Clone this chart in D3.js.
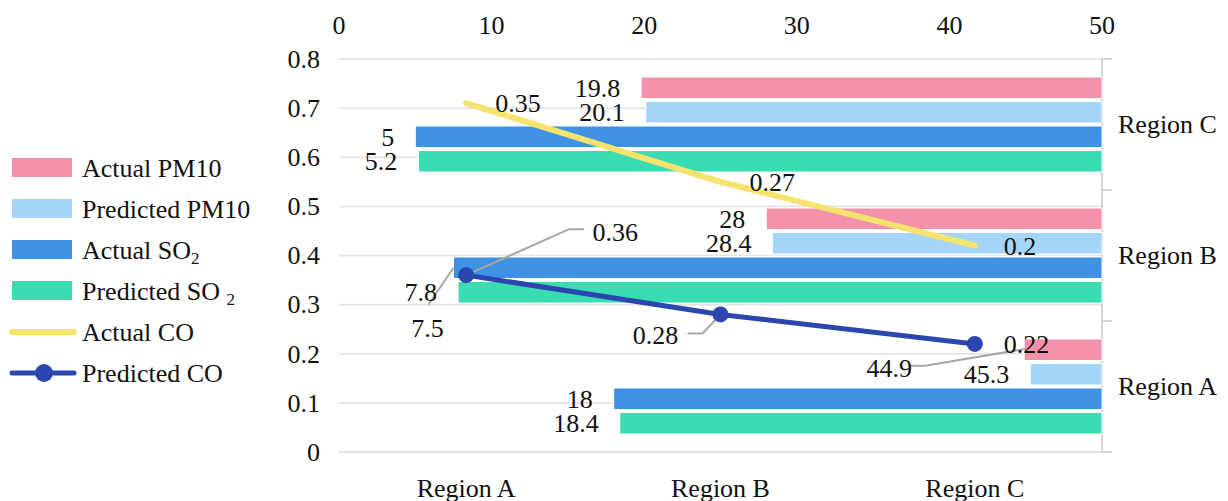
<!DOCTYPE html>
<html>
<head>
<meta charset="utf-8">
<script src="https://cdn.jsdelivr.net/npm/d3@7"></script>
<style>
  html, body { margin: 0; padding: 0; background: #fff; }
  svg text { font-family: "Liberation Serif", "Times New Roman", serif; fill: #111; }
</style>
</head>
<body>
<svg id="chart" width="1228" height="501"></svg>
<script>
// ---------------- data ----------------
const categories = ["Region A", "Region B", "Region C"];
const barCategories = ["Region C", "Region B", "Region A"];
const actualPM10 = [44.9, 28, 19.8];
const predictedPM10 = [45.3, 28.4, 20.1];
const actualSO2 = [18, 7.5, 5];
const predictedSO2 = [18.4, 7.8, 5.2];
const actualCO = [0.35, 0.27, 0.2];
const predictedCO = [0.36, 0.28, 0.22];
const xTicks = [0, 10, 20, 30, 40, 50];
const yTicks = [0, 0.1, 0.2, 0.3, 0.4, 0.5, 0.6, 0.7, 0.8];

const barSeries = [
  { key: "Actual PM10", values: actualPM10, color: "#F291A9" },
  { key: "Predicted PM10", values: predictedPM10, color: "#A4D6FA" },
  { key: "Actual SO2", values: actualSO2, color: "#3E91E3" },
  { key: "Predicted SO2", values: predictedSO2, color: "#39DDB1" }
];
const yellow = "#F5E36E";
const navy = "#2B46AE";

// ---------------- layout ----------------
const svg = d3.select("#chart");
const plot = { left: 339, right: 1102, top: 59, bottom: 452 };

const x = d3.scaleLinear().domain([0, 50]).range([plot.left, plot.right]);
const y = d3.scaleLinear().domain([0, 0.8]).range([plot.bottom, plot.top]);
const xCat = d3.scaleBand().domain(categories).range([plot.left, plot.right]);
const yBand = d3.scaleBand().domain(barCategories).range([plot.top, plot.bottom]);
const yInner = d3.scaleBand().domain(barSeries.map(s => s.key))
  .range([0, yBand.bandwidth()]).paddingInner(0.122).paddingOuter(0.734);

const FS = 26;

// gridlines
svg.append("g").selectAll("line").data(yTicks).join("line")
  .attr("x1", plot.left).attr("x2", plot.right)
  .attr("y1", d => y(d)).attr("y2", d => y(d))
  .attr("stroke", "#e6e6e6").attr("stroke-width", 2);

// left axis labels
svg.append("g").selectAll("text").data(yTicks).join("text")
  .attr("x", 320).attr("y", d => y(d)).attr("dy", "0.34em")
  .attr("text-anchor", "end").attr("font-size", FS)
  .text(d => d3.format("~g")(d));

// top axis labels
svg.append("g").selectAll("text").data(xTicks).join("text")
  .attr("x", d => x(d)).attr("y", 25).attr("dy", "0.34em")
  .attr("text-anchor", "middle").attr("font-size", FS)
  .text(d => d);

// bottom category labels
svg.append("g").selectAll("text").data(categories).join("text")
  .attr("x", d => xCat(d) + xCat.bandwidth() / 2).attr("y", 488).attr("dy", "0.34em")
  .attr("text-anchor", "middle").attr("font-size", FS)
  .text(d => d);

// right axis
const rAxis = svg.append("g");
rAxis.append("line").attr("x1", plot.right).attr("x2", plot.right)
  .attr("y1", plot.top).attr("y2", plot.bottom)
  .attr("stroke", "#d4d4d4").attr("stroke-width", 2);
const boundaries = barCategories.map(c => yBand(c)).concat([yBand(barCategories[2]) + yBand.bandwidth()]);
rAxis.selectAll("line.tick").data(boundaries).join("line").attr("class", "tick")
  .attr("x1", plot.right).attr("x2", plot.right + 10)
  .attr("y1", d => d).attr("y2", d => d)
  .attr("stroke", "#d4d4d4").attr("stroke-width", 2);
rAxis.selectAll("text").data(barCategories).join("text")
  .attr("x", 1118).attr("y", d => yBand(d) + yBand.bandwidth() / 2).attr("dy", "0.34em")
  .attr("font-size", FS).text(d => d);

// bars
const barData = [];
barSeries.forEach(s => {
  categories.forEach((c, i) => {
    barData.push({ series: s.key, color: s.color, cat: c, value: s.values[i] });
  });
});
svg.append("g").selectAll("rect").data(barData).join("rect")
  .attr("x", d => x(d.value))
  .attr("width", d => x(50) - x(d.value))
  .attr("y", d => yBand(d.cat) + yInner(d.series))
  .attr("height", yInner.bandwidth())
  .attr("fill", d => d.color)
  .attr("stroke", "#fff").attr("stroke-width", 1);

// bar labels (default: left of bar start), moved ones with leader lines
const moved = {
  "Actual SO2|Region B": { dx: -26, dy: 60, leader: [[0, 0], [-25, 37]] },
  "Actual PM10|Region A": { dx: -135, dy: 18, leader: [[2, -1], [-99, 16], [-114, 16]] }
};
const barLabelG = svg.append("g");
barData.forEach(d => {
  const bx = x(d.value);
  const by = yBand(d.cat) + yInner(d.series) + yInner.bandwidth() / 2;
  const m = moved[d.series + "|" + d.cat];
  if (m) {
    barLabelG.append("path")
      .attr("d", d3.line()(m.leader.map(p => [bx + p[0], by + p[1]])))
      .attr("fill", "none").attr("stroke", "#a6a6a6").attr("stroke-width", 2);
    barLabelG.append("text").attr("x", bx + m.dx).attr("y", by + m.dy).attr("dy", "0.34em")
      .attr("text-anchor", "middle").attr("font-size", FS).text(d.value);
  } else {
    barLabelG.append("text").attr("x", bx - 21).attr("y", by).attr("dy", "0.34em")
      .attr("text-anchor", "end").attr("font-size", FS).text(d.value);
  }
});

// stacked lines (Predicted CO at base, Actual CO stacked on it)
const lineTable = categories.map((c, i) => ({ cat: c, "Predicted CO": predictedCO[i], "Actual CO": actualCO[i] }));
const stack = d3.stack().keys(["Predicted CO", "Actual CO"])(lineTable);
const cx = c => xCat(c) + xCat.bandwidth() / 2;
const lineGen = d3.line().x(d => cx(d.data.cat)).y(d => y(d[1]));

svg.append("path").datum(stack[1]).attr("d", lineGen)
  .attr("fill", "none").attr("stroke", yellow).attr("stroke-width", 6).attr("stroke-linecap", "round");
svg.append("path").datum(stack[0]).attr("d", lineGen)
  .attr("fill", "none").attr("stroke", navy).attr("stroke-width", 5).attr("stroke-linejoin", "round");

// line labels: leader lines for moved labels
const lineMoved = {
  "Predicted CO|Region A": { dx: 149, dy: -43, leader: [[0, 0], [103, -46], [118, -46]] },
  "Predicted CO|Region B": { dx: -65, dy: 21, leader: [[0, 0], [-18, 19], [-33, 19]] }
};
const lineLabelG = svg.append("g");
stack.forEach(layer => {
  layer.forEach((d, i) => {
    const px = cx(d.data.cat), py = y(d[1]);
    const m = lineMoved[layer.key + "|" + d.data.cat];
    if (m) {
      lineLabelG.append("path")
        .attr("d", d3.line()(m.leader.map(p => [px + p[0], py + p[1]])))
        .attr("fill", "none").attr("stroke", "#a6a6a6").attr("stroke-width", 2);
    }
  });
});

// markers
svg.append("g").selectAll("circle").data(stack[0]).join("circle")
  .attr("cx", d => cx(d.data.cat)).attr("cy", d => y(d[1])).attr("r", 8)
  .attr("fill", navy);

stack.forEach(layer => {
  layer.forEach(d => {
    const px = cx(d.data.cat), py = y(d[1]);
    const v = d.data[layer.key];
    const m = lineMoved[layer.key + "|" + d.data.cat];
    if (m) {
      lineLabelG.append("text").attr("x", px + m.dx).attr("y", py + m.dy).attr("dy", "0.34em")
        .attr("text-anchor", "middle").attr("font-size", FS).text(v);
    } else {
      svg.append("text").attr("x", px + 29).attr("y", py).attr("dy", "0.34em")
        .attr("text-anchor", "start").attr("font-size", FS).text(v);
    }
  });
});

// legend
const legendItems = [
  { type: "rect", color: barSeries[0].color, label: ["Actual PM10"] },
  { type: "rect", color: barSeries[1].color, label: ["Predicted PM10"] },
  { type: "rect", color: barSeries[2].color, label: ["Actual SO", "2"] },
  { type: "rect", color: barSeries[3].color, label: ["Predicted SO ", "2"] },
  { type: "line", color: yellow, label: ["Actual CO"] },
  { type: "marker", color: navy, label: ["Predicted CO"] }
];
const lg = svg.append("g");
legendItems.forEach((it, i) => {
  const cy = 168 + i * 41;
  const g = lg.append("g");
  if (it.type === "rect") {
    g.append("rect").attr("x", 12).attr("y", cy - 10).attr("width", 60).attr("height", 19)
      .attr("fill", it.color);
  } else {
    g.append("line").attr("x1", 12).attr("x2", 74).attr("y1", cy).attr("y2", cy)
      .attr("stroke", it.color).attr("stroke-width", it.type === "line" ? 6 : 5)
      .attr("stroke-linecap", "round");
    if (it.type === "marker") {
      g.append("circle").attr("cx", 44).attr("cy", cy).attr("r", 9).attr("fill", it.color);
    }
  }
  const t = g.append("text").attr("x", 82).attr("y", cy).attr("dy", "0.34em").attr("font-size", FS);
  t.append("tspan").text(it.label[0]);
  if (it.label[1]) {
    t.append("tspan").attr("font-size", 17).attr("dy", "0.3em").text(it.label[1]);
  }
});
</script>
</body>
</html>
